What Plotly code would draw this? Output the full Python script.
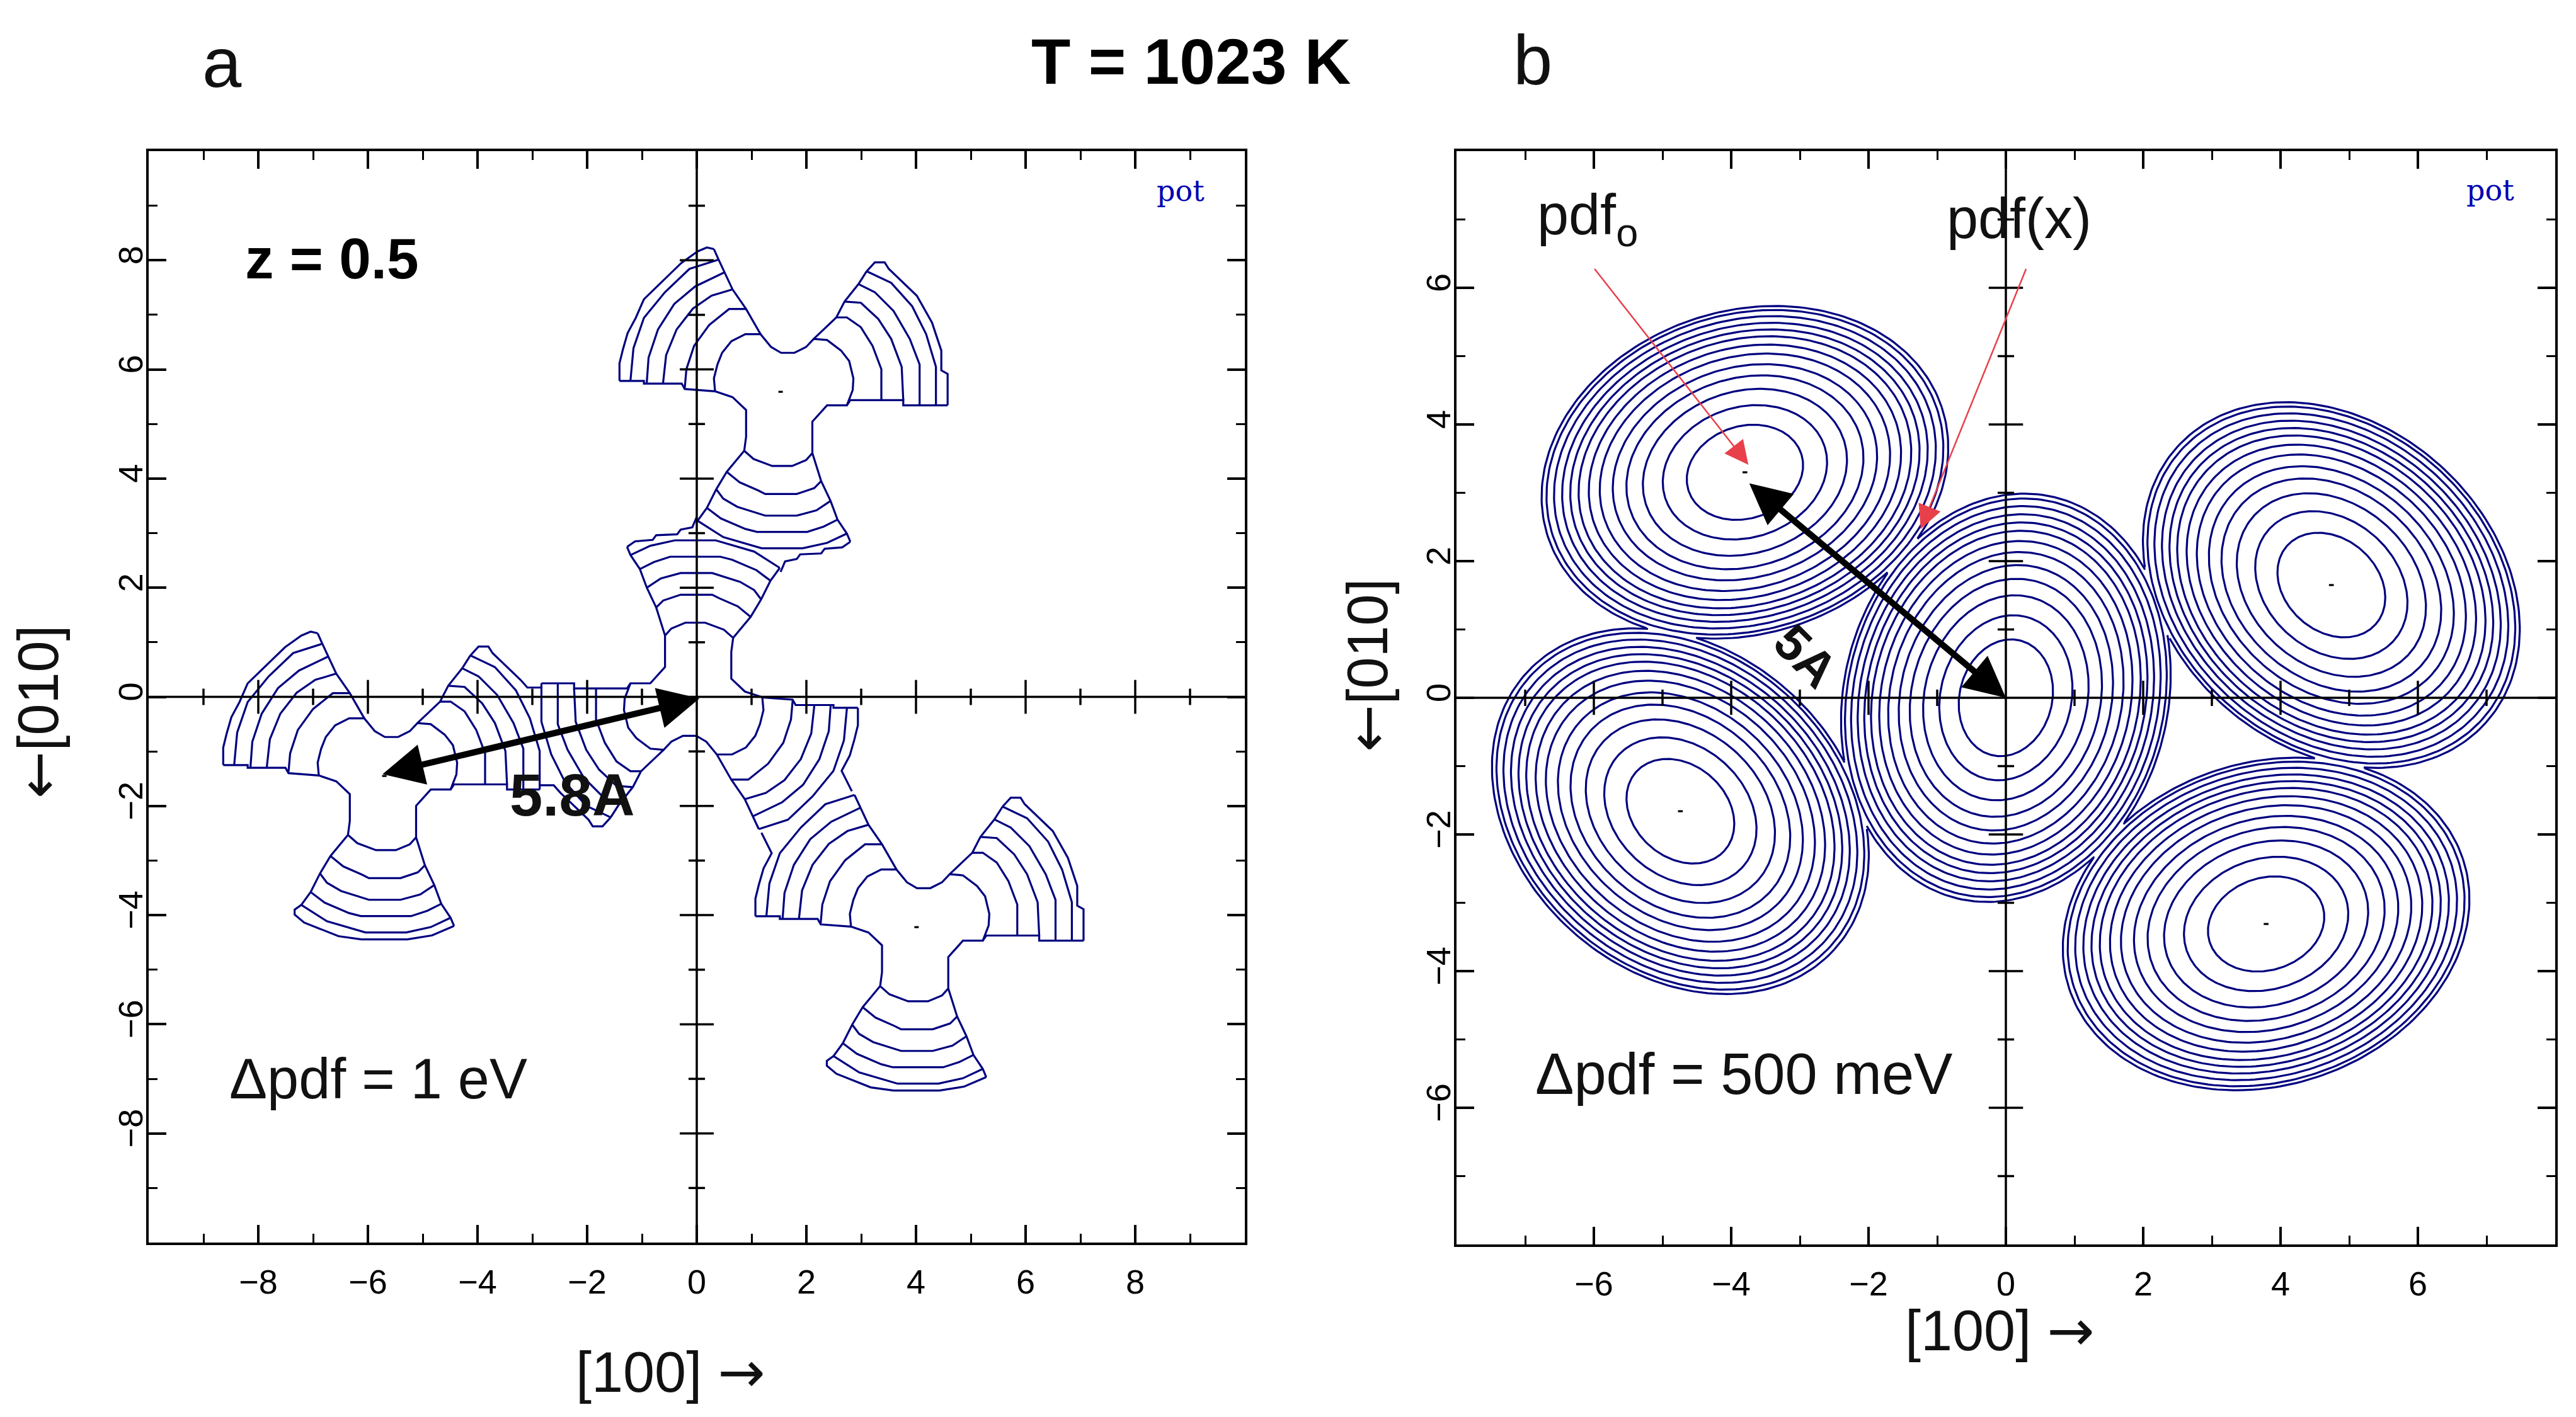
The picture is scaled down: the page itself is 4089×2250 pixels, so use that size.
import numpy as np
import plotly.graph_objects as go

W, H = 4089, 2250
NAVY = "#00007f"

# ---------- Panel a: trefoil contours (offsets from each trefoil's centre, in the axis units)
INNER = [(-.664,-1.081),(-.494,-1.231),(-.153,-1.359),(.209,-1.359),(.464,-1.252),(.579,-1.124),(.579,-.547),
         (.847,-.248),(1.209,-.248),(1.315,.03),(1.328,.244),(1.251,.564),(1.102,.756),(.847,.949),(.604,.97),
         (.464,.821),(.251,.714),(.009,.714),(-.174,.821),(-.366,1.056),(-.643,1.056),(-.898,.927),(-1.068,.714),
         (-1.153,.5),(-1.217,.244),(-1.196,.009),(-.877,-.098),(-.63,-.333),(-.63,-.825),(-.664,-1.081)]

UR_ARCS = [
    [(1.838,-.154),(1.838,.415),(1.677,.842),(1.464,1.184),(1.209,1.363),(1.017,1.363)],
    [(2.238,-.154),(2.209,.457),(2.017,.97),(1.783,1.333),(1.464,1.632),(1.166,1.654)],
    [(2.536,-.248),(2.536,.5),(2.357,.97),(2.06,1.483),(1.719,1.825),(1.421,1.974)],
    [(2.834,-.248),(2.834,.457),(2.655,1.056),(2.4,1.568),(2.017,1.996),(1.57,2.209)],
]
UR_ARC5_FULL = [(3.047,-.248),(3.047,.329),(2.932,.393),(2.932,.756),(2.762,1.269),(2.485,1.761),(1.974,2.252),
                (1.898,2.372),(1.719,2.372),(1.57,2.209)]
UR_ARC5_CUT = [(1.57,2.209),(1.719,2.372),(1.898,2.372),(1.974,2.252),(2.485,1.761),(2.61,1.62),(2.87,1.62)]
UR_EDGE_LOW_CUT = [(1.209,-.248),(1.272,-.154),(2.238,-.154),(2.238,-.248),(2.834,-.248)]
UR_EDGE_LOW_FULL = UR_EDGE_LOW_CUT + [(3.047,-.248)]
UR_EDGE_UP = [(.604,.97),(1.017,1.363),(1.166,1.654),(1.421,1.974),(1.57,2.209)]

UL_ARCS = [
    [(-1.749,.073),(-1.719,.415),(-1.579,.842),(-1.302,1.226),(-.94,1.517),(-.63,1.517)],
    [(-2.145,.158),(-2.089,.671),(-1.898,1.141),(-1.6,1.526),(-1.26,1.761),(-.877,1.876)],
    [(-2.443,.158),(-2.409,.628),(-2.238,1.141),(-1.94,1.611),(-1.557,1.932),(-1.026,2.188)],
    [(-2.74,.201),(-2.685,.799),(-2.494,1.355),(-2.111,1.825),(-1.664,2.252),(-1.132,2.423)],
]
UL_ARC5_FULL = [(-2.94,.201),(-2.94,.521),(-2.877,.778),(-2.791,1.077),(-2.643,1.355),(-2.494,1.697),(-1.813,2.359),
                (-1.515,2.573),(-1.345,2.645),(-1.217,2.615)]
UL_ARC5_CUT = [(-2.94,.201),(-2.94,.521),(-2.877,.778),(-2.791,1.077),(-2.643,1.355),(-2.83,1.73)]
UL_EDGE_LOW = [(-1.196,.009),(-1.749,.051),(-1.804,.15),(-2.494,.15),(-2.494,.2),(-2.94,.2)]
UL_EDGE_UP_CUT = [(-.366,1.056),(-.63,1.517),(-.877,1.876),(-1.026,2.188),(-1.132,2.423)]
UL_EDGE_UP_FULL = UL_EDGE_UP_CUT + [(-1.217,2.615)]

DN_ARCS = [
    [(-.983,-1.466),(-.749,-1.658),(-.409,-1.808),(-.281,-1.872),(.294,-1.872),(.613,-1.765),(.74,-1.637)],
    [(-1.174,-1.786),(-1.047,-1.957),(-.791,-2.107),(-.281,-2.269),(.294,-2.269),(.655,-2.171),(.911,-2.0)],
    [(-1.345,-2.128),(-1.089,-2.321),(-.643,-2.513),(-.43,-2.568),(.485,-2.568),(.783,-2.47),(1.038,-2.342)],
    [(-1.515,-2.363),(-1.047,-2.662),(-.345,-2.868),(.4,-2.868),(.847,-2.769),(1.209,-2.598)],
]
DN_ARC5_FULL = [(-1.515,-2.363),(-1.637,-2.45),(-1.637,-2.539),(-1.463,-2.686),(-.836,-2.936),(-.418,-2.995),
                (.418,-2.995),(.871,-2.921),(1.272,-2.748)]
DN_ARC5_CUT = [(1.272,-2.748),(1.124,-2.85),(.804,-2.876),(.74,-2.962),(.357,-2.979),(.294,-3.064),(.081,-3.107),(0,-3.3)]
DN_EDGE_L = [(-.664,-1.081),(-.983,-1.466),(-1.174,-1.786),(-1.345,-2.128),(-1.515,-2.363)]
DN_EDGE_R = [(.579,-1.124),(.74,-1.637),(.911,-2.0),(1.038,-2.342),(1.209,-2.598),(1.272,-2.748)]

# centre x, centre y, orientation sign, which lobes lost their outer contour to a neighbour
TREFOILS = [
    (1.53, 5.59, 1, {"dn"}),
    (4.01, -4.22, 1, {"ul"}),
    (-5.70, -1.45, 1, {"ur"}),
    (0.0, 0.0, -1, {"dn", "ul", "ur"}),
]
TREFOIL_DOTS = [(1.53, 5.59), (4.01, -4.22), (-5.70, -1.45)]

# ---------- Panel b: contour families
BLOB_CX = [0.0, -3.80, -4.74, 4.74, 3.79]
BLOB_CY = [0.0, 3.30, -1.66, 1.65, -3.31]
BLOB_TILT = [76.5, 18.4, -42.0, -42.0, 18.4]
BLOB_A = 3.02
BLOB_B = 2.36
LEVELS = [.286, .404, .502, .583, .65, .714, .768, .818, .859, .899, .939, .976, 1.0]

# ---------- Axes
A_RANGE = (-10, 10)
B_RANGE = (-8, 8)
A_MAJOR = [-8, -6, -4, -2, 0, 2, 4, 6, 8]
A_MINOR = [-9, -7, -5, -3, -1, 1, 3, 5, 7, 9]
B_MAJOR = [-6, -4, -2, 0, 2, 4, 6]
B_MINOR = [-7, -5, -3, -1, 1, 3, 5, 7]

fig = go.Figure()


def add_poly(pts, xa, ya, sign=1, cx=0.0, cy=0.0, color=NAVY):
    x = [cx + sign * p[0] for p in pts]
    y = [cy + sign * p[1] for p in pts]
    fig.add_trace(go.Scatter(x=x, y=y, mode="lines", xaxis=xa, yaxis=ya, hoverinfo="skip",
                             line=dict(color=color, width=3.2)))


for cx, cy, s, cut in TREFOILS:
    polys = [INNER] + UR_ARCS + UL_ARCS + DN_ARCS + [UR_EDGE_UP, UL_EDGE_LOW, DN_EDGE_L, DN_EDGE_R]
    polys += [UR_ARC5_CUT, UR_EDGE_LOW_CUT] if "ur" in cut else [UR_ARC5_FULL, UR_EDGE_LOW_FULL]
    polys += [UL_ARC5_CUT, UL_EDGE_UP_CUT] if "ul" in cut else [UL_ARC5_FULL, UL_EDGE_UP_FULL]
    polys += [DN_ARC5_CUT] if "dn" in cut else [DN_ARC5_FULL]
    for p in polys:
        add_poly(p, "x", "y", s, cx, cy)

for cx, cy in TREFOIL_DOTS:
    add_poly([(-.04, 0), (.04, 0)], "x", "y", 1, cx, cy, "black")


def blob_dist(x, y, j):
    t = np.radians(BLOB_TILT[j])
    dx, dy = x - BLOB_CX[j], y - BLOB_CY[j]
    u = dx * np.cos(t) + dy * np.sin(t)
    v = -dx * np.sin(t) + dy * np.cos(t)
    return np.sqrt((u / BLOB_A) ** 2 + (v / BLOB_B) ** 2)


ang = np.linspace(0, 2 * np.pi, 241)
for i in range(len(BLOB_CX)):
    t = np.radians(BLOB_TILT[i])
    for lev in LEVELS:
        u, v = lev * BLOB_A * np.cos(ang), lev * BLOB_B * np.sin(ang)
        x = BLOB_CX[i] + u * np.cos(t) - v * np.sin(t)
        y = BLOB_CY[i] + u * np.sin(t) + v * np.cos(t)
        others = np.min([blob_dist(x, y, j) for j in range(len(BLOB_CX)) if j != i], axis=0)
        x = np.where(others < lev, np.nan, x)
        y = np.where(others < lev, np.nan, y)
        fig.add_trace(go.Scatter(x=x, y=y, mode="lines", xaxis="x2", yaxis="y2", hoverinfo="skip",
                                 line=dict(color=NAVY, width=3.2), connectgaps=False))
    if i > 0:
        add_poly([(-.035, 0), (.035, 0)], "x2", "y2", 1, BLOB_CX[i], BLOB_CY[i], "black")


def centre_axes(rng, major, minor, maj_len, min_len, xa, ya):
    xs, ys = [rng[0], rng[1], None, 0, 0, None], [0, 0, None, rng[0], rng[1], None]
    for vals, ln in ((major, maj_len), (minor, min_len)):
        for v in vals:
            if v == 0:
                continue
            xs += [v, v, None, -ln, ln, None]
            ys += [-ln, ln, None, v, v, None]
    fig.add_trace(go.Scatter(x=xs, y=ys, mode="lines", xaxis=xa, yaxis=ya, hoverinfo="skip",
                             line=dict(color="black", width=3.5)))


centre_axes(A_RANGE, A_MAJOR, A_MINOR, .31, .15, "x", "y")
centre_axes(B_RANGE, B_MAJOR, B_MINOR, .25, .12, "x2", "y2")


def labels(vals):
    return [str(v).replace("-", "\u2212") for v in vals]


def axis(domain, rng, major, minor, angle, standoff, anchor):
    return dict(domain=domain, range=list(rng), anchor=anchor, showgrid=False, zeroline=False,
                showline=True, linecolor="black", linewidth=4, mirror="ticks",
                ticks="inside", ticklen=28, tickwidth=3.5, tickcolor="black",
                tickmode="array", tickvals=major, ticktext=labels(major), tickangle=angle,
                ticklabelstandoff=standoff,
                tickfont=dict(family="Liberation Sans", size=54, color="black"),
                minor=dict(tickmode="array", tickvals=minor, ticks="inside", ticklen=14,
                           tickwidth=3, tickcolor="black", showgrid=False))


fig.update_layout(
    width=W, height=H, autosize=False, showlegend=False, margin=dict(l=0, r=0, t=0, b=0),
    paper_bgcolor="white", plot_bgcolor="white",
    xaxis=axis([236 / W, 1976 / W], A_RANGE, A_MAJOR, A_MINOR, 0, 12, "y"),
    yaxis=axis([1 - 1973 / H, 1 - 240 / H], A_RANGE, A_MAJOR, A_MINOR, -90, -16, "x"),
    xaxis2=axis([2312 / W, 4056 / W], B_RANGE, B_MAJOR, B_MINOR, 0, 12, "y2"),
    yaxis2=axis([1 - 1976 / H, 1 - 240 / H], B_RANGE, B_MAJOR, B_MINOR, -90, -16, "x2"),
)


def txt(s, x, y, size, bold=False, color="#111111", angle=0, family="Liberation Sans"):
    t = f"<b>{s}</b>" if bold else s
    fig.add_annotation(text=t, x=x / W, y=1 - y / H, xref="paper", yref="paper", showarrow=False,
                       xanchor="center", yanchor="middle", textangle=angle,
                       font=dict(family=family, size=size, color=color))


ARROW_R = '<span style="font-family:DejaVu Sans">\u2192</span>'
ARROW_L = '<span style="font-family:DejaVu Sans">\u2190</span>'

txt("a", 352, 100, 112)
txt("b", 2433, 96, 112)
txt("T = 1023 K", 1890, 98, 102, bold=True, color="black")
txt("z = 0.5", 527, 410, 91, bold=True, color="black")
txt("\u0394pdf = 1 eV", 600, 1713, 90)
txt("\u0394pdf = 500 meV", 2768, 1705, 92)
txt("pdf<sub>o</sub>", 2520, 347, 90)
txt("pdf(x)", 3205, 347, 90)
txt("5.8A", 908, 1262, 94, bold=True, color="#111111")
txt("5A", 2866, 1042, 80, bold=True, color="#111111", angle=45)
txt("pot", 1874, 303, 46, color="#0000b0", family="DejaVu Serif")
txt("pot", 3953, 302, 46, color="#0000b0", family="DejaVu Serif")
txt("[100] " + ARROW_R, 1064, 2178, 90)
txt("[100] " + ARROW_R, 3174, 2112, 90)
txt(ARROW_L + "[010]", 60, 1130, 90, angle=-90)
txt(ARROW_L + "[010]", 2170, 1056, 90, angle=-90)


def arrow(x0, y0, x1, y1, xa, ya, color, width, head, size, both=False):
    fig.add_annotation(x=x1, y=y1, ax=x0, ay=y0, xref=xa, yref=ya, axref=xa, ayref=ya, text="",
                       showarrow=True, arrowcolor=color, arrowwidth=width, arrowhead=head,
                       arrowsize=size, arrowside="end+start" if both else "end",
                       startarrowhead=head, startarrowsize=size, standoff=0, startstandoff=0)


arrow(-5.75, -1.42, 0.05, -0.03, "x", "y", "black", 10, 2, 1.3, both=True)
arrow(-3.75, 3.15, 0.0, 0.0, "x2", "y2", "black", 10, 2, 1.3, both=True)
arrow(-6.0, 6.29, -3.75, 3.41, "x2", "y2", "#e8404a", 2.5, 2, 3)
arrow(0.30, 6.29, -1.24, 2.47, "x2", "y2", "#e8404a", 2.5, 2, 3)

fig.write_html("out.html", config={"displayModeBar": False},
               post_script="document.body.style.margin='0';")
